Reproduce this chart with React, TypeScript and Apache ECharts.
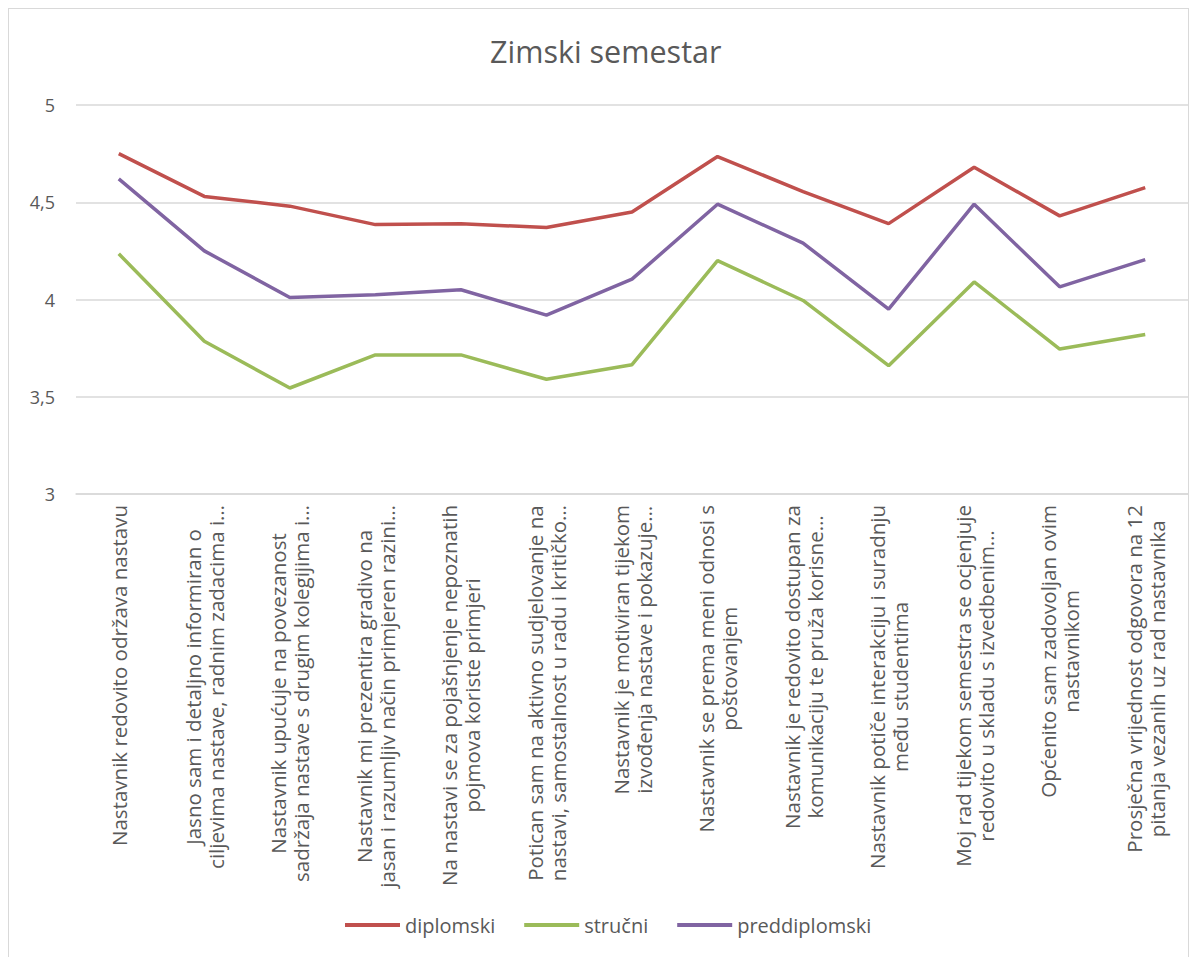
import React, { useEffect, useRef } from "react";
import * as echarts from "echarts";

const categories: string[] = [
  "Nastavnik redovito održava nastavu",
  "Jasno sam i detaljno informiran o\nciljevima nastave, radnim zadacima i…",
  "Nastavnik upućuje na povezanost\nsadržaja nastave s drugim kolegijima i…",
  "Nastavnik mi prezentira gradivo na\njasan i razumljiv način primjeren razini…",
  "Na nastavi se za pojašnjenje nepoznatih\npojmova koriste primjeri",
  "Potican sam na aktivno sudjelovanje na\nnastavi, samostalnost u radu i kritičko…",
  "Nastavnik je motiviran tijekom\nizvođenja nastave i pokazuje…",
  "Nastavnik se prema meni odnosi s\npoštovanjem",
  "Nastavnik je redovito dostupan za\nkomunikaciju te pruža korisne…",
  "Nastavnik potiče interakciju i suradnju\nmeđu studentima",
  "Moj rad tijekom semestra se ocjenjuje\nredovito u skladu s izvedbenim…",
  "Općenito sam zadovoljan ovim\nnastavnikom",
  "Prosječna vrijednost odgovora na 12\npitanja vezanih uz rad nastavnika",
];

const diplomski: number[] = [4.75, 4.53, 4.48, 4.385, 4.39, 4.37, 4.45, 4.735, 4.555, 4.39, 4.68, 4.43, 4.575];
const strucni: number[] = [4.235, 3.785, 3.545, 3.715, 3.715, 3.59, 3.665, 4.2, 3.995, 3.66, 4.09, 3.745, 3.82];
const preddiplomski: number[] = [4.62, 4.25, 4.01, 4.025, 4.05, 3.92, 4.105, 4.49, 4.29, 3.95, 4.49, 4.065, 4.205];

const yTicks: number[] = [3, 3.5, 4, 4.5, 5];

const FONT = "'Open Sans', sans-serif";
const GRAY = "#595959";

export default function App() {
  const ref = useRef<HTMLDivElement>(null);

  useEffect(() => {
    if (!ref.current) return;
    const chart = echarts.init(ref.current, undefined, { renderer: "svg" });
    const mk = (name: string, data: number[], color: string) => ({
      name,
      type: "line",
      data,
      symbol: "none",
      smooth: false,
      lineStyle: { color, width: 3.5 },
      itemStyle: { color },
    });
    chart.setOption({
      animation: false,
      textStyle: { fontFamily: FONT },
      title: {
        text: "Zimski semestar",
        left: 476,
        top: 21,
        textStyle: { fontFamily: FONT, fontSize: 30.5, fontWeight: "normal", color: GRAY },
      },
      legend: {
        bottom: 17,
        left: 331,
        icon: "rect",
        itemWidth: 55,
        itemHeight: 4,
        itemGap: 29,
        textStyle: { fontFamily: FONT, fontSize: 20, color: GRAY },
        data: ["diplomski", "stručni", "preddiplomski"],
      },
      grid: { left: 67, top: 96, width: 1113, height: 389, containLabel: false },
      xAxis: {
        type: "category",
        data: categories,
        boundaryGap: true,
        axisLine: { show: true, lineStyle: { color: "#d9d9d9", width: 1.5 } },
        axisTick: { show: false },
        axisLabel: {
          interval: 0,
          rotate: 90,
          margin: 11,
          color: GRAY,
          fontFamily: FONT,
          fontSize: 20.5,
          lineHeight: 23,
          formatter: (v: string) =>
            v
              .split("\n")
              .map((l) => `{c|${l}}`)
              .join("\n"),
          rich: {
            c: { align: "center", fontFamily: FONT, fontSize: 20.5, lineHeight: 23, color: GRAY },
          },
        },
      },
      yAxis: {
        type: "value",
        min: yTicks[0],
        max: yTicks[yTicks.length - 1],
        interval: 0.5,
        axisLine: { show: false },
        axisTick: { show: false },
        splitLine: { lineStyle: { color: "#d9d9d9", width: 1.5 } },
        axisLabel: {
          margin: 21,
          color: GRAY,
          fontFamily: FONT,
          fontSize: 18,
          formatter: (v: number) => String(v).replace(".", ","),
        },
      },
      series: [
        mk("diplomski", diplomski, "#C0504D"),
        mk("stručni", strucni, "#9BBB59"),
        mk("preddiplomski", preddiplomski, "#8064A2"),
      ],
    });
    return () => chart.dispose();
  }, []);

  return (
    <div style={{ width: 1181, height: 949, border: "1px solid #d9d9d9", borderBottom: "none", boxSizing: "border-box" }}>
      <div ref={ref} style={{ width: 1179, height: 948 }} />
    </div>
  );
}
